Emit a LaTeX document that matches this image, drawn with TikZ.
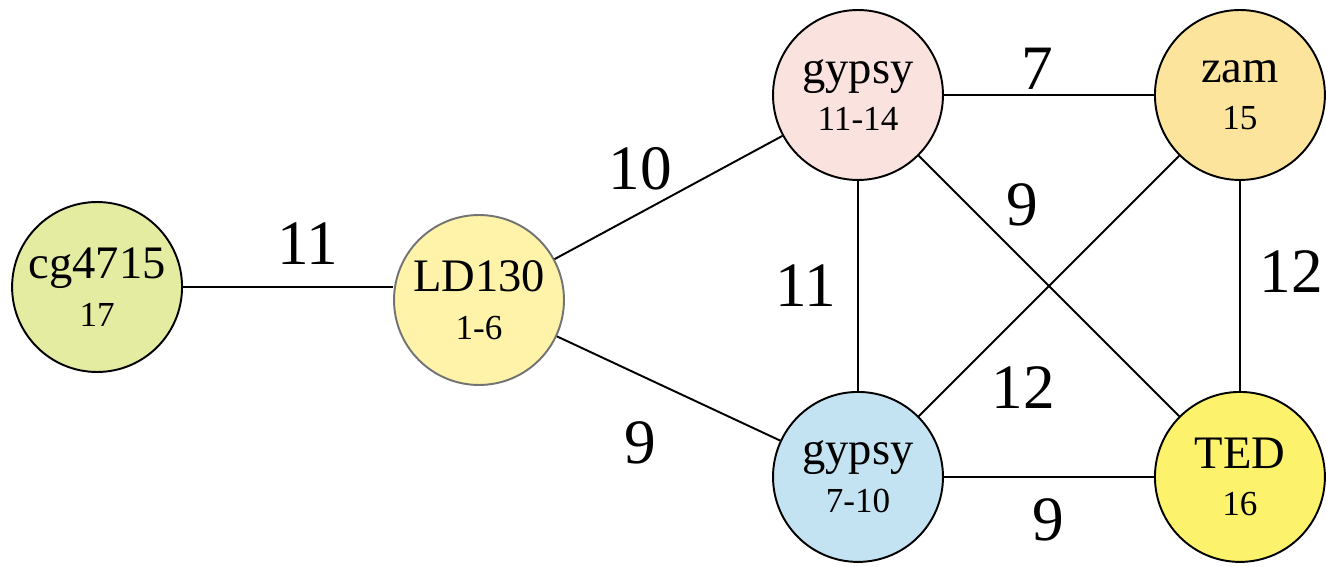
\documentclass[tikz,border=0pt]{standalone}
\usepackage{fontspec}
\setmainfont{Liberation Serif}
\definecolor{cgfill}{RGB}{227,236,160}
\definecolor{ldfill}{RGB}{255,243,170}
\definecolor{gtfill}{RGB}{250,227,222}
\definecolor{zamfill}{RGB}{252,228,156}
\definecolor{gbfill}{RGB}{195,227,242}
\definecolor{tedfill}{RGB}{252,242,108}
\newcommand{\subsize}{\fontsize{20}{24}\selectfont}
\begin{document}
\begin{tikzpicture}[x=0.02cm, y=-0.02cm, node distance={7.64cm}, line width=1.1pt,
    main/.style = {draw, circle, minimum size=3.4cm, inner sep=0pt, align=center, font=\fontsize{26.5}{27}\selectfont},
    weight/.style = {font=\fontsize{36}{40}\selectfont}]
    \useasboundingbox (0,0) rectangle (1326,567);

    % i nodi
    \node[main, fill=gtfill] (gt) at (858,95) {gypsy\\{\subsize 11-14}};
    \node[main, fill=zamfill] (zam) [right of = gt] {zam\\{\subsize 15}};
    \node[main, fill=gbfill] (gb) [below of = gt] {gypsy\\{\subsize 7-10}};
    \node[main, fill=tedfill] (ted) [below of = zam] {TED\\{\subsize 16}};
    \node[main, fill=ldfill, draw=black!55] (ld) at (479,300) {LD130\\{\subsize 1-6}};
    \node[main, fill=cgfill] (cg) [left of = ld, yshift=0.26cm] {cg4715\\{\subsize 17}};

    \draw (cg.east) -- (cg.east -| ld.west);
    \draw (ld) -- (gt);
    \draw (ld) -- (gb);
    \draw (gt) -- (zam);
    \draw (gt) -- (gb);
    \draw (gt) -- (ted);
    \draw (zam) -- (gb);
    \draw (zam) -- (ted);
    \draw (gb) -- (ted);

    % pesi
    \node[weight] (w1) at (308,244) {11};
    \node[weight] (w2) at (640,169) {10};
    \node[weight] (w3) at (1037,69) {7};
    \node[weight] (w4) at (1022,205) {9};
    \node[weight] (w5) at (806,286) {11};
    \node[weight] (w6) at (1291,272) {12};
    \node[weight] (w7) at (1023,388) {12};
    \node[weight] (w8) at (640,443) {9};
    \node[weight] (w9) at (1048,520) {9};

\end{tikzpicture}
\end{document}
